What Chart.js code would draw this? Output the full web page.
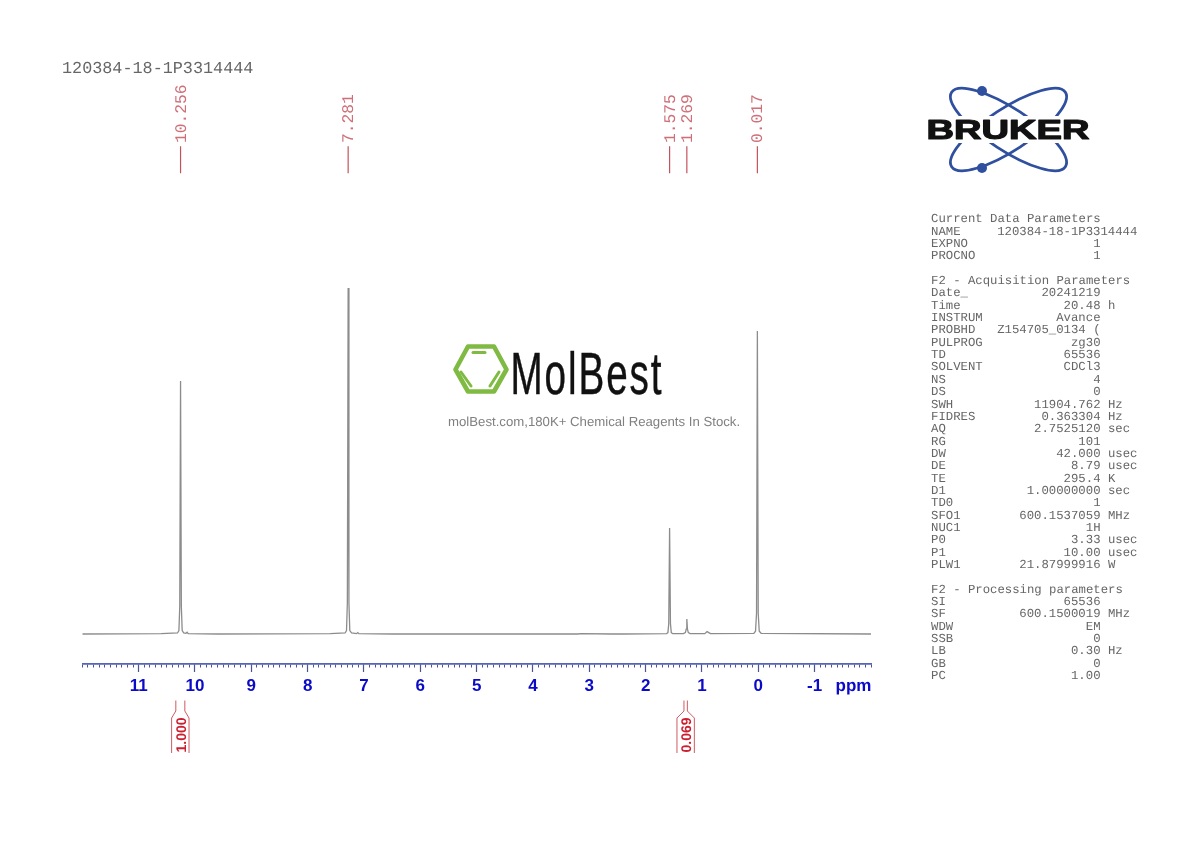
<!DOCTYPE html>
<html>
<head>
<meta charset="utf-8">
<title>120384-18-1P3314444</title>
<style>
  html, body { margin: 0; padding: 0; background: #fff; }
  canvas { display: block; }
</style>
<script src="https://cdn.jsdelivr.net/npm/chart.js@4"></script>
</head>
<body>
<canvas id="spectrum" width="1190" height="842"></canvas>
<script>
// spectrum, intensity is % of the tallest peak
const spectrumPpm = [12.0, 10.6, 10.31, 10.285, 10.27, 10.256, 10.242, 10.227, 10.2, 10.16, 10.14, 10.12, 9.6,
    7.6, 7.335, 7.31, 7.295, 7.281, 7.267, 7.252, 7.22, 7.13, 7.11, 7.09, 6.5, 3.2, 3.16, 2.6, 2.4,
    1.63, 1.605, 1.59, 1.575, 1.56, 1.545, 1.52, 1.33, 1.295, 1.28, 1.269, 1.258, 1.243, 1.21,
    0.95, 0.91, 0.88, 0.85, 0.08, 0.05, 0.032, 0.017, 0.002, -0.016, -0.05, -2.0];
const spectrumIntensity = [0, 0.1, 0.3, 1, 8, 73.1, 8, 1, 0.3, 0.2, 0.5, 0.1, 0,
    0.1, 0.3, 1, 9, 100, 9, 1, 0.3, 0.1, 0.4, 0.1, 0, 0, 0.1, 0, 0,
    0.1, 0.4, 3, 30.6, 3, 0.4, 0.1, 0.1, 0.4, 1.4, 4.3, 1.4, 0.4, 0.1,
    0.1, 0.7, 0.4, 0.1, 0.2, 0.8, 6, 87.6, 6, 0.8, 0.2, 0];
const peakPpm = [10.256, 7.281, 1.575, 1.269, 0.017];
const peakLabels = ["10.256", "7.281", "1.575", "1.269", "0.017"];
const integralFrom = [10.34, 1.32];
const integralTo = [10.18, 1.26];
const integralLabels = ["1.000", "0.069"];
const sampleName = "120384-18-1P3314444";
const paramRows = [
    ["Current Data Parameters"],
    ["NAME", "120384-18-1P3314444", "", 28],
    ["EXPNO", "1"],
    ["PROCNO", "1"],
    [],
    ["F2 - Acquisition Parameters"],
    ["Date_", "20241219"],
    ["Time", "20.48", "h"],
    ["INSTRUM", "Avance"],
    ["PROBHD", "Z154705_0134 ("],
    ["PULPROG", "zg30"],
    ["TD", "65536"],
    ["SOLVENT", "CDCl3"],
    ["NS", "4"],
    ["DS", "0"],
    ["SWH", "11904.762", "Hz"],
    ["FIDRES", "0.363304", "Hz"],
    ["AQ", "2.7525120", "sec"],
    ["RG", "101"],
    ["DW", "42.000", "usec"],
    ["DE", "8.79", "usec"],
    ["TE", "295.4", "K"],
    ["D1", "1.00000000", "sec"],
    ["TD0", "1"],
    ["SFO1", "600.1537059", "MHz"],
    ["NUC1", "1H"],
    ["P0", "3.33", "usec"],
    ["P1", "10.00", "usec"],
    ["PLW1", "21.87999916", "W"],
    [],
    ["F2 - Processing parameters"],
    ["SI", "65536"],
    ["SF", "600.1500019", "MHz"],
    ["WDW", "EM"],
    ["SSB", "0"],
    ["LB", "0.30", "Hz"],
    ["GB", "0"],
    ["PC", "1.00"]
];

const RED = "#c4525c";
const BLUE = "#0a0ac8";
const AXIS = "#5563bb";
const TICK = "#4c5590";
const MONO = '"Liberation Mono", monospace';
const SANS = '"Liberation Sans", sans-serif';

const text = (ctx, str, x, y, font, color, align = "left", angle = 0) => {
    ctx.save();
    ctx.translate(x, y);
    ctx.rotate(angle);
    ctx.font = font;
    ctx.textRendering = "geometricPrecision";
    ctx.fillStyle = color;
    ctx.textAlign = align;
    ctx.textBaseline = "alphabetic";
    ctx.fillText(str, 0, 0);
    ctx.restore();
};

const drawParams = (ctx) => {
    const cw = 7.37;
    paramRows.forEach((row, i) => {
        const y = 222.4 + i * 12.34;
        if (row[0]) text(ctx, row[0], 931, y, "12.3px " + MONO, "#666");
        if (row[1]) text(ctx, row[1], 931 + cw * (row[3] || 23), y, "12.3px " + MONO, "#666", "right");
        if (row[2]) text(ctx, row[2], 931 + cw * 24, y, "12.3px " + MONO, "#666");
    });
};

const drawBruker = (ctx) => {
    ctx.save();
    ctx.strokeStyle = "#2f4f9f";
    ctx.lineWidth = 2.8;
    [0.58, -0.58].forEach(a => {
        ctx.beginPath();
        ctx.ellipse(1008.5, 129.5, 68, 21, a, 0, Math.PI * 2);
        ctx.stroke();
    });
    ctx.fillStyle = "#2f4f9f";
    [[982, 91], [982, 168]].forEach(p => {
        ctx.beginPath();
        ctx.arc(p[0], p[1], 5, 0, Math.PI * 2);
        ctx.fill();
    });
    ctx.fillStyle = "#fff";
    ctx.fillRect(922, 116, 172, 27);
    ctx.font = 'bold 28px "Liberation Sans"';
    const w = ctx.measureText("BRUKER").width;
    ctx.translate(926.5, 139);
    ctx.scale(163 / w, 1);
    ctx.lineJoin = "round";
    ctx.fillStyle = "#111";
    ctx.strokeStyle = "#111";
    ctx.lineWidth = 1.2;
    ctx.strokeText("BRUKER", 0, 0);
    ctx.fillText("BRUKER", 0, 0);
    ctx.restore();
};

const drawMolBest = (ctx) => {
    ctx.save();
    ctx.strokeStyle = "#7fbb42";
    ctx.lineJoin = "round";
    ctx.lineCap = "round";
    ctx.lineWidth = 4.6;
    ctx.beginPath();
    [[455.5, 369.5], [468, 346.5], [494, 346.5], [506.5, 369.5], [494, 391.5], [468, 391.5]].forEach(p => ctx.lineTo(p[0], p[1]));
    ctx.closePath();
    ctx.stroke();
    ctx.lineWidth = 3;
    [[[473, 352.5], [485, 352.5]], [[461, 372], [471, 386]], [[499, 372], [490, 386]]].forEach(l => {
        ctx.beginPath();
        ctx.moveTo(l[0][0], l[0][1]);
        ctx.lineTo(l[1][0], l[1][1]);
        ctx.stroke();
    });
    ctx.font = '60px "Liberation Sans"';
    ctx.letterSpacing = "3px";
    const w = ctx.measureText("MolBest").width;
    ctx.translate(510.5, 393.5);
    ctx.scale(153 / w, 1);
    ctx.fillStyle = "#111";
    ctx.strokeStyle = "#111";
    ctx.lineWidth = 0.5;
    ctx.lineJoin = "miter";
    ctx.strokeText("MolBest", 0, 0);
    ctx.fillText("MolBest", 0, 0);
    ctx.restore();
    text(ctx, "molBest.com,180K+ Chemical Reagents In Stock.", 448, 426, "13.2px " + SANS, "#808080");
};

// labels and integral brackets hang off the x scale, outside the plot
const annotations = {
    id: "annotations",
    afterDraw(chart) {
        const ctx = chart.ctx;
        const xs = chart.scales.x;
        text(ctx, sampleName, 62, 73, "16.8px " + MONO, "#666");
        peakPpm.forEach((ppm, i) => {
            text(ctx, peakLabels[i], xs.getPixelForValue(ppm) + 5, 143, "16.3px " + MONO, "#cf6f78", "left", -Math.PI / 2);
        });
        text(ctx, "ppm", 853.5, 691, "bold 17px " + SANS, BLUE, "center");
        integralFrom.forEach((from, i) => {
            const l = xs.getPixelForValue(from);
            const r = xs.getPixelForValue(integralTo[i]);
            const mid = (l + r) / 2;
            ctx.save();
            ctx.strokeStyle = "#cf5a64";
            ctx.lineWidth = 1;
            [[l, mid - 8.7], [r, mid + 8.7]].forEach(s => {
                ctx.beginPath();
                ctx.moveTo(s[0], 700.5);
                ctx.lineTo(s[0], 711);
                ctx.lineTo(s[1], 718);
                ctx.lineTo(s[1], 753);
                ctx.stroke();
            });
            ctx.restore();
            text(ctx, integralLabels[i], mid + 5.5, 752.5, "bold 14px " + SANS, "#cc1f30", "left", -Math.PI / 2);
        });
        drawBruker(ctx);
        drawMolBest(ctx);
        drawParams(ctx);
    }
};

const stemPoints = [];
peakPpm.forEach(ppm => {
    stemPoints.push({ x: ppm, y: 133.2 }, { x: ppm, y: 141 }, { x: ppm, y: null });
});

const ppmAxis = {
    type: "linear",
    axis: "x",
    min: -2,
    max: 12,
    reverse: true,
    grid: { drawOnChartArea: false, drawTicks: true, color: TICK, tickColor: TICK },
    border: { color: AXIS, width: 1.5 }
};

new Chart(document.getElementById("spectrum"), {
    type: "line",
    data: {
        datasets: [
            {
                data: spectrumPpm.map((ppm, i) => ({ x: ppm, y: spectrumIntensity[i] })),
                borderColor: "#8c8c8c",
                borderWidth: 1.3,
                pointRadius: 0,
                tension: 0
            },
            {
                data: stemPoints,
                borderColor: RED,
                borderWidth: 1.2,
                pointRadius: 0,
                spanGaps: false
            }
        ]
    },
    options: {
        responsive: false,
        animation: false,
        devicePixelRatio: 1,
        layout: { padding: { left: 82.3, right: 319, top: 60, bottom: 148 } },
        plugins: { legend: { display: false }, tooltip: { enabled: false } },
        scales: {
            x: {
                ...ppmAxis,
                position: "bottom",
                afterFit: (scale) => { scale.height = 30; },
                grid: {
                    ...ppmAxis.grid,
                    tickLength: 8,
                    tickWidth: 1.2,
                    // no long tick at the two ends of the axis
                    tickColor: (c) => (c.tick && (c.tick.value === -2 || c.tick.value === 12) ? "rgba(0,0,0,0)" : TICK)
                },
                ticks: {
                    stepSize: 1,
                    autoSkip: false,
                    maxRotation: 0,
                    padding: 4,
                    color: BLUE,
                    font: { family: "Liberation Sans", size: 17, weight: "bold" },
                    callback: (v) => (v === -2 || v === 12 ? "" : String(v))
                }
            },
            xMinor: {
                ...ppmAxis,
                position: { y: -8.67 },
                grid: { ...ppmAxis.grid, tickLength: 3, tickWidth: 1 },
                ticks: { stepSize: 0.1, autoSkip: false, maxRotation: 0, callback: () => "", font: { size: 1 }, padding: 0 }
            },
            y: { type: "linear", display: false, min: -8.67, max: 165.9 }
        }
    },
    plugins: [annotations]
});
</script>
</body>
</html>
